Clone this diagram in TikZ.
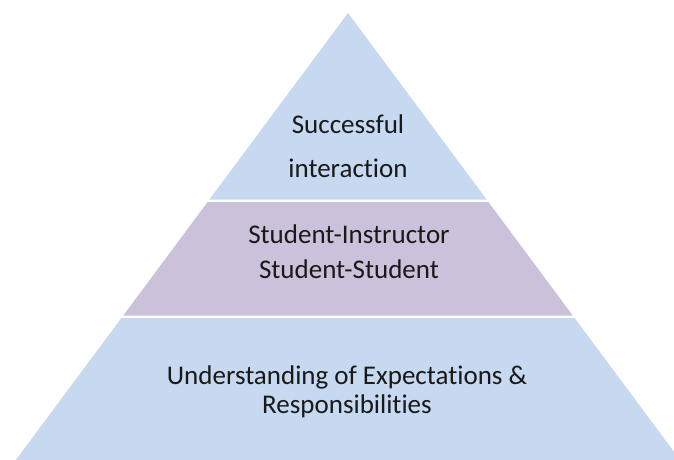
\documentclass[tikz,border=0pt]{standalone}
\usepackage{fontspec}
\setmainfont[Ligatures=NoCommon]{Carlito}
\usepackage{tikz}
\definecolor{pyrblue}{RGB}{198,217,241}
\definecolor{pyrlilac}{RGB}{204,193,218}
\tikzset{lbl/.style={anchor=base, font=\fontsize{27}{31}\selectfont, inner sep=0pt, text=black!90}}

\begin{document}
\begin{tikzpicture}[x=1pt,y=-1pt]
\useasboundingbox (0,0) rectangle (674,460);
\clip (0,0) rectangle (674,460);

\fill [pyrblue] (348,13) -- (486.6,199.5) -- (209.4,199.5) -- cycle;
\fill [pyrlilac] (207.6,202) -- (488.4,202) -- (572.7,315.5) -- (123.3,315.5) -- cycle;
\fill [pyrblue] (121.4,318) -- (574.6,318) -- (687.6,470) -- (8.4,470) -- cycle;

\node [lbl] (top1) at (348,133) {Successful};
\node [lbl] (top2) at (348,177) {interaction};
\node [lbl] (mid1) at (349,243) {Student-Instructor};
\node [lbl] (mid2) at (349,278) {Student-Student};
\node [lbl] (bot1) at (347,384) {Understanding of Expectations \&};
\node [lbl] (bot2) at (347,413) {Responsibilities};

\end{tikzpicture}
\end{document}
